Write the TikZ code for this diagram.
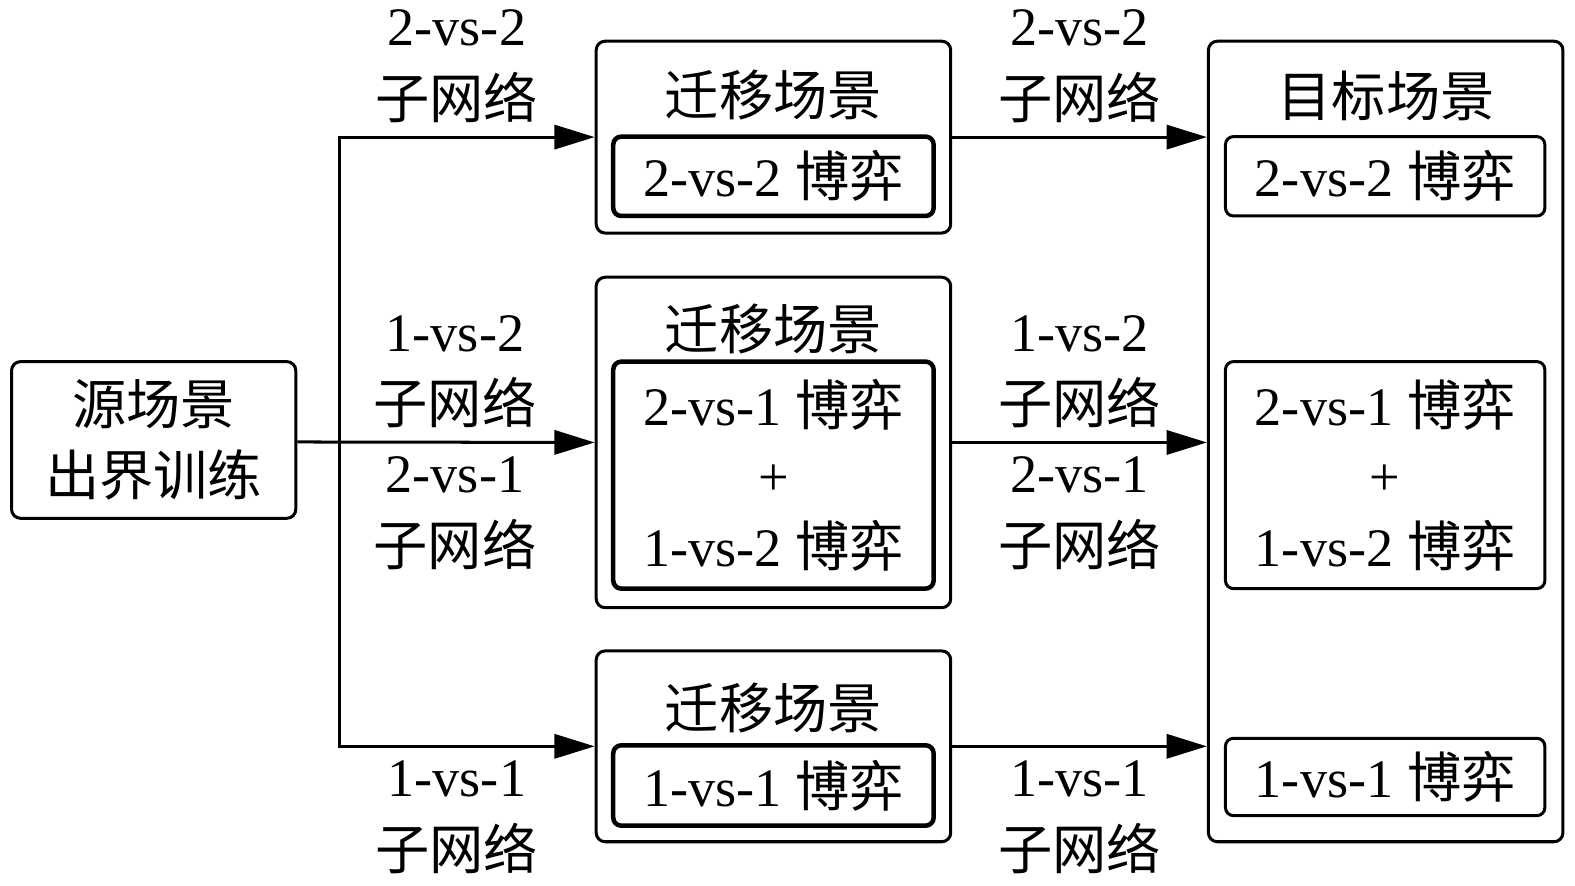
\documentclass[tikz,border=0pt]{standalone}
\usepackage{fontspec}
\setmainfont{Liberation Serif}
\newfontfamily\cjk{Noto Sans CJK SC}
\usetikzlibrary{arrows.meta,positioning}
\tikzset{
  obox/.style={rectangle, rounded corners=9pt, draw, line width=3pt, minimum width=353pt, align=center},
  gblk/.style={rectangle, rounded corners=8pt, draw, line width=4.5pt, minimum width=319pt, align=center},
  tblk/.style={gblk, line width=3pt, minimum width=318pt},
  oarr/.style={-{Triangle[length=40pt,width=24pt]}, line width=3pt},
  olbl/.style={align=center, inner sep=13pt, font=\fontsize{54}{72}\selectfont},
}

\begin{document}
\begin{tikzpicture}[x=1pt,y=-1pt,font=\fontsize{54}{70}\selectfont]
        \useasboundingbox (0,0) rectangle (1568,882);
        \node[obox,minimum width=283pt,minimum height=156pt](src) at (153,438){{\cjk 源场景}\\{\cjk 出界训练}};
        % transfer scenes
        \node[obox,minimum height=191pt](tr1) at (770,136.5){};
        \node(tr1t) at (770,95){\cjk 迁移场景};
        \node[gblk,minimum height=79pt](tr1g) at (770,175.5){2-vs-2 {\cjk 博弈}};
        \node[obox,minimum height=329pt](tr2) at (770,440.5){};
        \node(tr2t) at (770,328){\cjk 迁移场景};
        \node[gblk,minimum height=226pt](tr2g) at (770,473){2-vs-1 {\cjk 博弈}\\+\\1-vs-2 {\cjk 博弈}};
        \node[obox,minimum height=190pt](tr3) at (770,743){};
        \node(tr3t) at (770,705){\cjk 迁移场景};
        \node[gblk,minimum height=80pt](tr3g) at (770,782){1-vs-1 {\cjk 博弈}};
        % target scene
        \node[obox,minimum height=797pt](tgt) at (1379.5,439.5){};
        \node(tgtt) at (1380,95){\cjk 目标场景};
        \node[tblk,minimum height=79pt](tg1) at (1379,175.5){2-vs-2 {\cjk 博弈}};
        \node[tblk,minimum height=226pt](tg2) at (1379,473){2-vs-1 {\cjk 博弈}\\+\\1-vs-2 {\cjk 博弈}};
        \node[tblk,minimum height=77pt](tg3) at (1379,773.5){1-vs-1 {\cjk 博弈}};
        % connectors
        \coordinate(fork) at (338,440);
        \draw[oarr](src.east|-fork)--(tr2.west)
            node[pos=0.53,above,olbl]{1-vs-2\\{\cjk 子网络}}
            node[pos=0.53,below,olbl]{2-vs-1\\{\cjk 子网络}};
        \draw[oarr](fork)|-(tr1.west) node[pos=0.73,above,olbl]{2-vs-2\\{\cjk 子网络}};
        \draw[oarr](fork)|-(tr3.west) node[pos=0.73,below,olbl]{1-vs-1\\{\cjk 子网络}};
        \draw[oarr](tr1.east)--(tgt.west|-tr1.east) node[midway,above,olbl]{2-vs-2\\{\cjk 子网络}};
        \draw[oarr](tr2.east)--(tgt.west|-tr2.east)
            node[midway,above,olbl]{1-vs-2\\{\cjk 子网络}}
            node[midway,below,olbl]{2-vs-1\\{\cjk 子网络}};
        \draw[oarr](tr3.east)--(tgt.west|-tr3.east) node[midway,below,olbl]{1-vs-1\\{\cjk 子网络}};
    \end{tikzpicture}
\end{document}
